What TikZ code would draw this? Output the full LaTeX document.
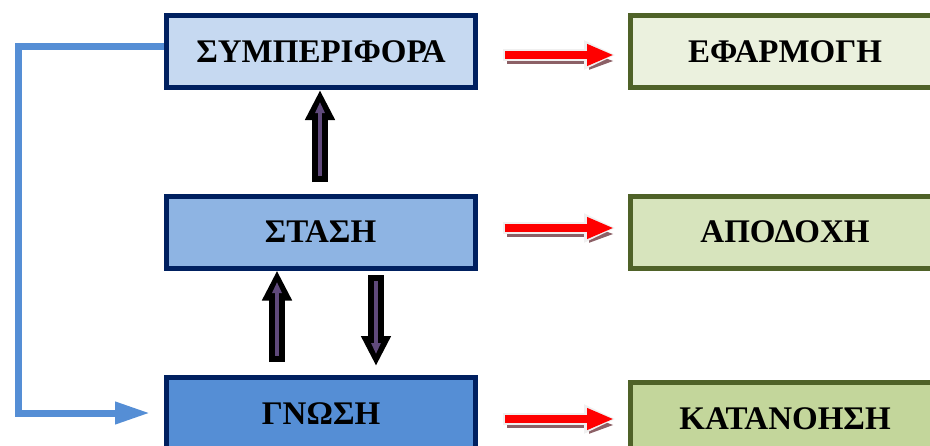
\documentclass[tikz,border=0pt]{standalone}
\usepackage{fontspec}
\setmainfont{Liberation Serif}
\usetikzlibrary{arrows.meta,calc}

\definecolor{navy}{RGB}{0,32,96}
\definecolor{olive}{RGB}{79,98,40}
\definecolor{blueA}{RGB}{198,217,241}
\definecolor{blueB}{RGB}{142,180,227}
\definecolor{blueC}{RGB}{85,142,213}
\definecolor{greenA}{RGB}{235,241,222}
\definecolor{greenB}{RGB}{215,228,189}
\definecolor{greenC}{RGB}{195,214,155}
\definecolor{linkblue}{RGB}{85,142,213}
\definecolor{innerpurple}{RGB}{96,74,123}
\definecolor{shadowred}{RGB}{140,96,102}

\tikzset{
  box/.style={line width=5pt, minimum width=309pt, minimum height=72pt,
    inner sep=0pt, font=\fontsize{33}{36}\selectfont\bfseries},
  leftbox/.style={box, draw=navy},
  rightbox/.style={box, draw=olive},
  blocklink/.style={draw=black, line width=16pt,
    -{Triangle[length=30pt,width=28pt]}},
  innerlink/.style={draw=innerpurple, line width=3.5pt,
    -{Triangle[length=11pt,width=9pt]}},
  redlink/.style={draw=red, line width=8pt,
    -{Triangle[length=27pt,width=20pt]}},
  redglow/.style={draw=white!88!gray, line width=12pt,
    -{Triangle[length=32pt,width=27pt]}},
  redshadow/.style={draw=shadowred, line width=5pt,
    -{Triangle[length=25pt,width=16pt]},
    transform canvas={xshift=1pt,yshift=-6pt}},
  feedback/.style={draw=linkblue, line width=7pt, line join=miter,
    -{Triangle[length=35pt,width=21pt]}}
}

\begin{document}
\begin{tikzpicture}[x=1pt,y=-1pt]
\useasboundingbox (0,0) rectangle (930,445);
\fill[white] (0,0) rectangle (930,445);
\clip (0,0) rectangle (930,445);

% the three stages on the left
\node[leftbox, fill=blueA] (symp)  at (321,51.5)  {ΣΥΜΠΕΡΙΦΟΡΑ};
\node[leftbox, fill=blueB] (stasi) at (320.5,232) {ΣΤΑΣΗ};
\node[leftbox, fill=blueC] (gnosi) at (321,413.5) {ΓΝΩΣΗ};

% their outcomes on the right
\node[rightbox, fill=greenA] (efarm) at (785,51.5)  {ΕΦΑΡΜΟΓΗ};
\node[rightbox, fill=greenB] (apod)  at (785,232)   {ΑΠΟΔΟΧΗ};
\node[rightbox, fill=greenC] (katan) at (785,418.5) {ΚΑΤΑΝΟΗΣΗ};

% feedback line from behaviour back to knowledge
\coordinate (fbTop) at (18,46);
\coordinate (fbBot) at (18,413);
\draw[feedback, shorten >=14pt]
  (symp.west |- fbTop) -- (fbTop) -- (fbBot) -- (gnosi.west |- fbBot);

% block arrows between the stages
\coordinate (upA)  at (320,182);
\coordinate (upAi) at (320,176);
\coordinate (upAe) at (320,102);
\draw[blocklink] (upA) -- (symp.south -| upA);
\draw[innerlink] (upAi) -- (upAe);

\coordinate (upB)  at (277,362);
\coordinate (upBi) at (277,356);
\coordinate (upBe) at (277,282);
\draw[blocklink] (upB) -- (stasi.south -| upB);
\draw[innerlink] (upBi) -- (upBe);

\coordinate (dnA)  at (376,275);
\coordinate (dnAt) at (376,366);
\coordinate (dnAi) at (376,281);
\coordinate (dnAe) at (376,354);
\draw[blocklink] (dnA) -- (dnAt);
\draw[innerlink] (dnAi) -- (dnAe);

% red arrows towards the outcomes
\foreach \src/\dst/\dy in {symp/efarm/-3.5pt, stasi/apod/4pt, gnosi/katan/-5.5pt}{
  \draw[redshadow, shorten <=28pt, shorten >=15pt]
    ([yshift=\dy]\src.east) -- ([yshift=\dy]\src.east -| \dst.west);
  \draw[redglow, shorten <=25pt, shorten >=12pt]
    ([yshift=\dy]\src.east) -- ([yshift=\dy]\src.east -| \dst.west);
  \draw[redlink, shorten <=27pt, shorten >=14pt]
    ([yshift=\dy]\src.east) -- ([yshift=\dy]\src.east -| \dst.west);
}
\end{tikzpicture}
\end{document}
